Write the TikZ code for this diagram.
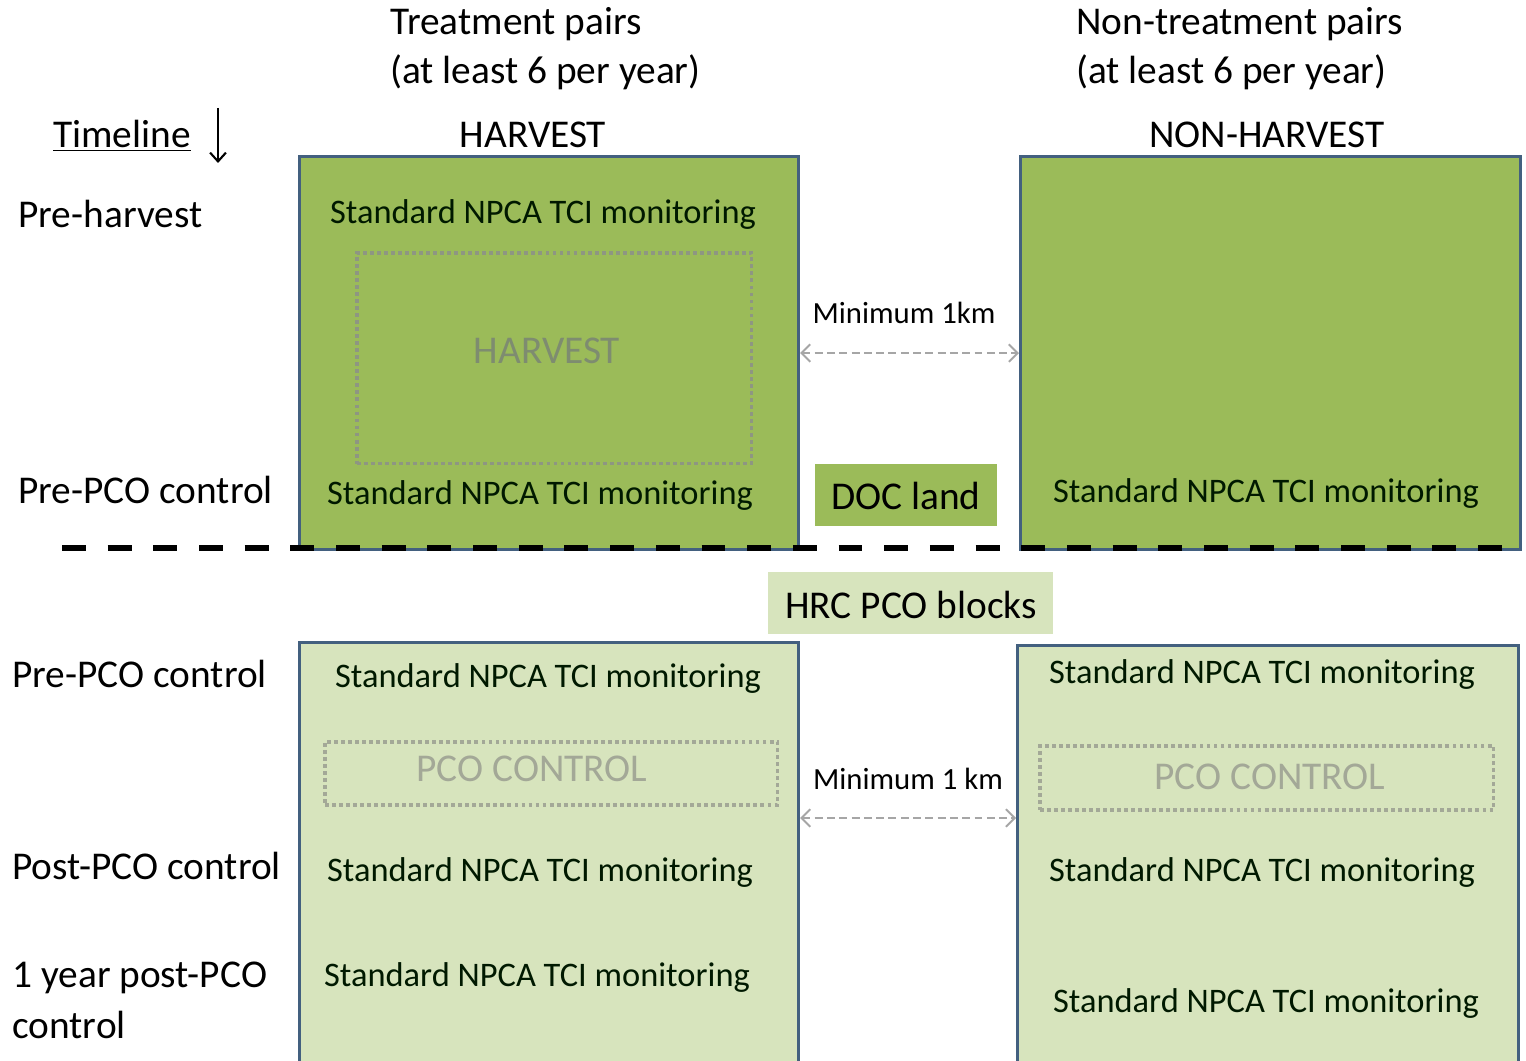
\documentclass[tikz,border=0pt]{standalone}
\usepackage{fontspec}
\setmainfont{Carlito}
\usetikzlibrary{arrows.meta}

\definecolor{harvgreen}{HTML}{9BBB59}
\definecolor{palegreen}{HTML}{D7E4BD}
\definecolor{boxedge}{HTML}{43607F}
\definecolor{dotgrey}{HTML}{8E9682}
\definecolor{labgrey}{HTML}{7E8C70}
\definecolor{pcogrey}{HTML}{A3A897}
\definecolor{arrgrey}{HTML}{A6A6A6}

\newcommand{\bigtxt}{\fontsize{22.4}{27}\selectfont}
\newcommand{\stdtxt}{\fontsize{19.6}{24}\selectfont}
\newcommand{\smalltxt}{\fontsize{17.5}{21}\selectfont}

\begin{document}
\begin{tikzpicture}[x=0.02cm,y=-0.02cm,inner sep=0pt,
    field/.style={draw=boxedge,line width=1.8pt,anchor=north west},
    zone/.style={draw=dotgrey,line width=2pt,dash pattern=on 2.2pt off 1.8pt,anchor=north west},
    tag/.style={fill=#1,anchor=north west},
    gap/.style={draw=arrgrey,line width=1.1pt,dash pattern=on 4.5pt off 2.5pt,<->,
        >={Straight Barb[length=5pt,width=10pt,line width=1.1pt]}},
    mon/.style={font=\stdtxt,text=black!90!green}]
    \useasboundingbox (0,0) rectangle (1526,1061);

    % column heads
    \node[font=\bigtxt,anchor=west] (treat) at (390,24) {Treatment pairs};
    \node[font=\bigtxt,anchor=west] (treat2) at (390,72) {(at least 6 per year)};
    \node[font=\bigtxt,anchor=west] (ntreat) at (1076,24) {Non-treatment pairs};
    \node[font=\bigtxt,anchor=west] (ntreat2) at (1076,72) {(at least 6 per year)};
    \node[font=\bigtxt] (hhead) at (533,135) {HARVEST};
    \node[font=\bigtxt] (nhhead) at (1267,135) {NON-HARVEST};

    % timeline
    \node[font=\bigtxt,anchor=west] (timeline) at (53,136) {\underline{Timeline}};
    \coordinate (tltop) at (218,108);
    \coordinate (tlbot) at (218,163);
    \draw[line width=1.2pt,-{Straight Barb[length=5pt,width=9pt,line width=1.2pt]}] (tltop) -- (tlbot);

    % stage labels
    \node[font=\bigtxt,anchor=west] (preharv) at (18,214) {Pre-harvest};
    \node[font=\bigtxt,anchor=west] (prepco1) at (18,490) {Pre-PCO control};
    \node[font=\bigtxt,anchor=west] (prepco2) at (12,674) {Pre-PCO control};
    \node[font=\bigtxt,anchor=west] (postpco) at (12,866) {Post-PCO control};
    \node[font=\bigtxt,anchor=west] (yearpco) at (12,978) {1 year post-PCO};
    \node[font=\bigtxt,anchor=west] (yearpco2) at (12,1025) {control};

    % top blocks
    \node[field,fill=harvgreen,minimum width=9.98cm,minimum height=7.86cm] (harv) at (298,155) {};
    \node[field,fill=harvgreen,minimum width=10cm,minimum height=7.86cm] (nonharv) at (1019,155) {};
    \node[zone,minimum width=7.9cm,minimum height=4.22cm] (harvzone) at (355,251) {};
    \node[font=\bigtxt,text=labgrey] (harvlab) at (547,351) {HARVEST};
    \node[mon] (mon1) at (543,215) {Standard NPCA TCI monitoring};
    \node[mon] (mon2) at (540,496) {Standard NPCA TCI monitoring};
    \node[mon] (mon3) at (1266,494) {Standard NPCA TCI monitoring};

    \node[tag=harvgreen,minimum width=3.64cm,minimum height=1.24cm] (doc) at (815,464) {};
    \node[font=\bigtxt] (doclab) at (906,496) {DOC land};

    \draw[gap] (harv.east) -- (nonharv.west);
    \node[font=\smalltxt] (min1) at (904,313) {Minimum 1km};

    % divider
    \coordinate (sepL) at (62,548);
    \coordinate (sepR) at (1515,548);
    \draw[line width=3pt,dash pattern=on 13.6pt off 12.4pt] (sepL) -- (sepR);

    \node[tag=palegreen,minimum width=5.7cm,minimum height=1.24cm] (hrc) at (768,572) {};
    \node[font=\bigtxt] (hrclab) at (911,605) {HRC PCO blocks};

    % bottom blocks
    \node[field,fill=palegreen,minimum width=9.98cm,minimum height=8.44cm] (lowleft) at (298,641) {};
    \node[field,fill=palegreen,minimum width=10.02cm,minimum height=8.38cm] (lowright) at (1016,644) {};
    \node[zone,draw=pcogrey,minimum width=9.06cm,minimum height=1.26cm] (pcozone1) at (323,740) {};
    \node[zone,draw=pcogrey,minimum width=9.08cm,minimum height=1.28cm] (pcozone2) at (1038,744) {};
    \node[font=\bigtxt,text=pcogrey] (pcolab1) at (532,769) {PCO CONTROL};
    \node[font=\bigtxt,text=pcogrey] (pcolab2) at (1270,777) {PCO CONTROL};

    \node[mon] (mon4) at (548,679) {Standard NPCA TCI monitoring};
    \node[mon] (mon5) at (540,872) {Standard NPCA TCI monitoring};
    \node[mon] (mon6) at (537,977) {Standard NPCA TCI monitoring};
    \node[mon] (mon7) at (1262,675) {Standard NPCA TCI monitoring};
    \node[mon] (mon8) at (1262,872) {Standard NPCA TCI monitoring};
    \node[mon] (mon9) at (1266,1003) {Standard NPCA TCI monitoring};

    \coordinate (gap2) at (907,818);
    \draw[gap] (lowleft.east |- gap2) -- (lowright.west |- gap2);
    \node[font=\smalltxt] (min2) at (908,779) {Minimum 1 km};
\end{tikzpicture}
\end{document}
